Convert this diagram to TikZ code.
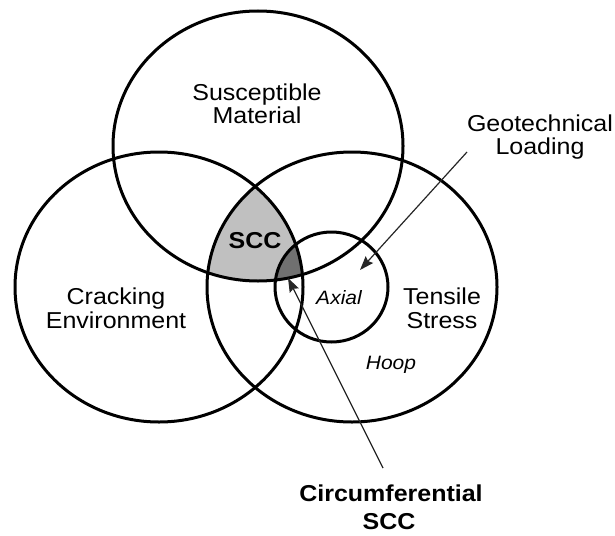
\documentclass[tikz,border=0pt]{standalone}
\usepackage{fontspec}
\setmainfont{Liberation Sans}
\usetikzlibrary{arrows.meta}
\definecolor{sccgray}{RGB}{192,192,192}
\definecolor{sccdark}{RGB}{112,112,112}
\newcommand{\vsq}[1]{\scalebox{1}[0.92]{#1}}
\begin{document}
\begin{tikzpicture}[x=1pt,y=-1pt,
  ring/.style={draw=black, line width=3pt},
  lbl/.style={anchor=base, inner sep=0pt, font=\fontsize{25}{28}\selectfont},
  lblb/.style={anchor=base, inner sep=0pt, font=\fontsize{25}{28}\selectfont\bfseries},
  lbli/.style={anchor=base, inner sep=0pt, font=\fontsize{21}{24}\selectfont\itshape},
  ptr/.style={line width=1.2pt, draw=black!85, -{Stealth[length=14pt,width=10pt,inset=2pt]}}]
\useasboundingbox (0,0) rectangle (615,535);
% shaded intersections
\begin{scope}
  \clip (258,146) ellipse [x radius=145pt, y radius=135pt];
  \clip (159,287) ellipse [x radius=144pt, y radius=135pt];
  \clip (352,287) ellipse [x radius=145pt, y radius=135pt];
  \fill[sccgray] (0,0) rectangle (615,535);
  \clip (331.5,287) ellipse [x radius=56.5pt, y radius=55pt];
  \fill[sccdark] (0,0) rectangle (615,535);
\end{scope}
% circles
\draw[ring] (258,146) ellipse [x radius=145pt, y radius=135pt];
\draw[ring] (159,287) ellipse [x radius=144pt, y radius=135pt];
\draw[ring] (352,287) ellipse [x radius=145pt, y radius=135pt];
\draw[ring] (331.5,287) ellipse [x radius=56.5pt, y radius=55pt];
% arrows
\coordinate (geoS) at (467,152);
\coordinate (geoT) at (360,270);
\coordinate (cirS) at (383,468);
\coordinate (cirT) at (288,278);
\draw[ptr] (geoS) -- (geoT);
\draw[ptr] (cirS) -- (cirT);
% labels
\node[lbl] (sm1) at (257,100) {\vsq{Susceptible}};
\node[lbl] (sm2) at (257,123) {\vsq{Material}};
\node[lbl] (gl1) at (540,131) {\vsq{Geotechnical}};
\node[lbl] (gl2) at (540,154) {\vsq{Loading}};
\node[lbl] (ce1) at (116,304) {\vsq{Cracking}};
\node[lbl] (ce2) at (116,328) {\vsq{Environment}};
\node[lbl] (ts1) at (442,304) {\vsq{Tensile}};
\node[lbl] (ts2) at (442,328) {\vsq{Stress}};
\node[lblb] (scc) at (255,248) {\vsq{SCC}};
\node[lbli] (ax) at (339,304) {\vsq{Axial}};
\node[lbli] (hp) at (391,369) {\vsq{Hoop}};
\node[lblb] (cs1) at (391,501) {\vsq{Circumferential}};
\node[lblb] (cs2) at (389,529) {\vsq{SCC}};
\end{tikzpicture}
\end{document}
